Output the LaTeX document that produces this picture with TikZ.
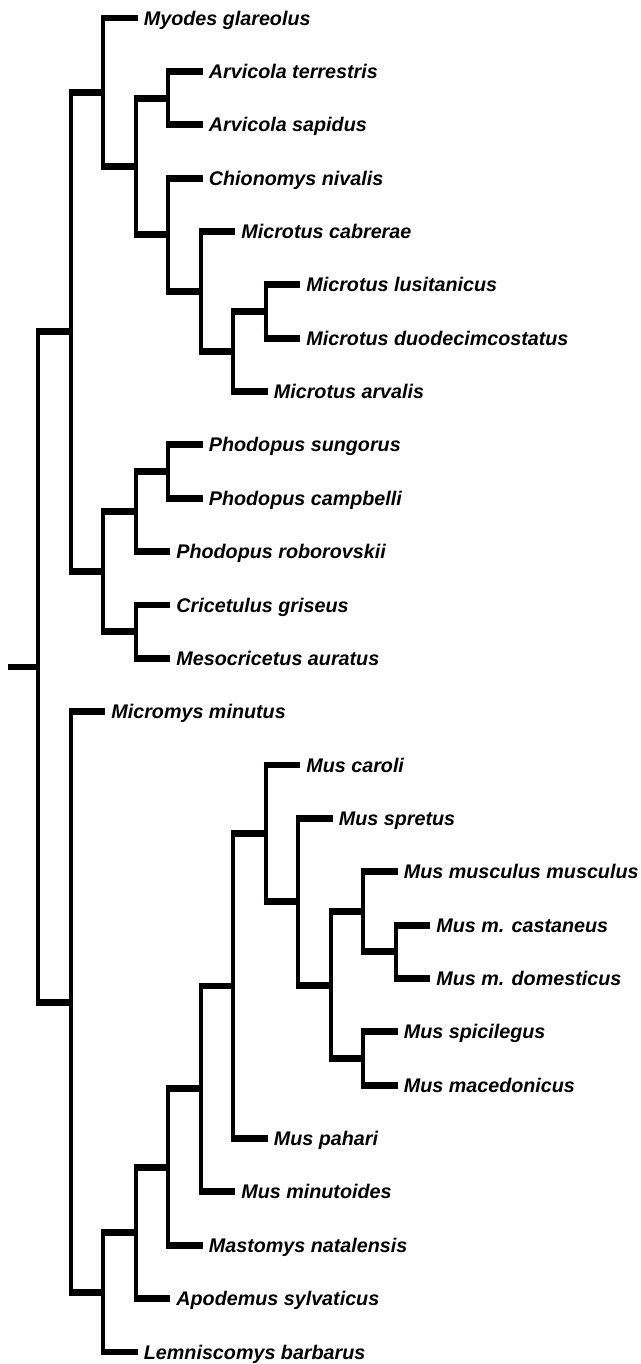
\documentclass[tikz,border=0pt]{standalone}
\usepackage{fontspec}
\setmainfont{Liberation Sans}

\begin{document}
\begin{tikzpicture}[
  x=0.75pt, y=-0.75pt,
  leaf/.style={
    anchor=west,
    font=\fontsize{14.8}{17}\selectfont\bfseries\itshape,
    text height=10.6pt,
    text depth=0pt,
    inner ysep=0pt,
    inner xsep=4.6pt
  },
  vbar/.style={line width=3pt, shorten >=-2.6pt},
  hbar/.style={line width=5.2pt, shorten <=-1.5pt}
]
\useasboundingbox (0,0) rectangle (640,1364);

\coordinate (base) at (8,667);
\coordinate (root) at (38,667);
\coordinate (a) at (70.5,331.9);
\coordinate (b) at (70.5,1002.05);
\coordinate (a1) at (103,92.2);
\coordinate (a2) at (103,571.6);
\coordinate (a1b) at (135.5,166.4);
\coordinate (arv) at (168,98.05);
\coordinate (a1c) at (168,234.8);
\coordinate (mic1) at (200.5,291.45);
\coordinate (mic2) at (233,351.5);
\coordinate (mic3) at (265.5,311.5);
\coordinate (ph1) at (135.5,511.6);
\coordinate (ph2) at (168,471.55);
\coordinate (cri) at (135.5,631.65);
\coordinate (b1) at (103,1292.4);
\coordinate (b2) at (135.5,1232.85);
\coordinate (b3) at (168,1167.1);
\coordinate (b4) at (200.5,1088.95);
\coordinate (b5) at (233,986);
\coordinate (mus1) at (265.5,833.4);
\coordinate (mus2) at (298,901.8);
\coordinate (mus3) at (330.5,985.15);
\coordinate (mus4) at (363,911.8);
\coordinate (mus5) at (395.5,951.8);
\coordinate (spic) at (363,1058.5);

\node[leaf] (myodes) at (137.5,18) {Myodes glareolus};
\node[leaf] (arvter) at (202.5,71.4) {Arvicola terrestris};
\node[leaf] (arvsap) at (202.5,124.7) {Arvicola sapidus};
\node[leaf] (chion) at (202.5,178.1) {Chionomys nivalis};
\node[leaf] (miccab) at (235,231.4) {Microtus cabrerae};
\node[leaf] (miclus) at (300,284.8) {Microtus lusitanicus};
\node[leaf] (micduo) at (300,338.2) {Microtus duodecimcostatus};
\node[leaf] (micarv) at (267.5,391.5) {Microtus arvalis};
\node[leaf] (phosun) at (202.5,444.9) {Phodopus sungorus};
\node[leaf] (phocam) at (202.5,498.2) {Phodopus campbelli};
\node[leaf] (phorob) at (170,551.6) {Phodopus roborovskii};
\node[leaf] (crigri) at (170,605) {Cricetulus griseus};
\node[leaf] (mesaur) at (170,658.3) {Mesocricetus auratus};
\node[leaf] (micmin) at (105,711.7) {Micromys minutus};
\node[leaf] (muscar) at (300,765) {Mus caroli};
\node[leaf] (musspr) at (332.5,818.4) {Mus spretus};
\node[leaf] (musmus) at (397.5,871.8) {Mus musculus musculus};
\node[leaf] (muscas) at (430,925.1) {Mus m. castaneus};
\node[leaf] (musdom) at (430,978.5) {Mus m. domesticus};
\node[leaf] (musspi) at (397.5,1031.8) {Mus spicilegus};
\node[leaf] (musmac) at (397.5,1085.2) {Mus macedonicus};
\node[leaf] (muspah) at (267.5,1138.6) {Mus pahari};
\node[leaf] (musmin) at (235,1191.9) {Mus minutoides};
\node[leaf] (masnat) at (202.5,1245.3) {Mastomys natalensis};
\node[leaf] (aposyl) at (170,1298.6) {Apodemus sylvaticus};
\node[leaf] (lembar) at (137.5,1352) {Lemniscomys barbarus};

\draw[line width=5.2pt] (base) -- (root);
\foreach \p/\c in {root/a, root/b, a/a1, a/a2, a1/myodes, a1/a1b,
    a1b/arv, a1b/a1c, arv/arvter, arv/arvsap, a1c/chion, a1c/mic1,
    mic1/miccab, mic1/mic2, mic2/mic3, mic2/micarv, mic3/miclus, mic3/micduo,
    a2/ph1, a2/cri, ph1/ph2, ph1/phorob, ph2/phosun, ph2/phocam,
    cri/crigri, cri/mesaur, b/micmin, b/b1, b1/b2, b1/lembar,
    b2/b3, b2/aposyl, b3/b4, b3/masnat, b4/b5, b4/musmin,
    b5/mus1, b5/muspah, mus1/muscar, mus1/mus2, mus2/musspr, mus2/mus3,
    mus3/mus4, mus3/spic, mus4/musmus, mus4/mus5, mus5/muscas, mus5/musdom,
    spic/musspi, spic/musmac}{
  \draw[vbar] (\p) -- (\p |- \c);
  \draw[hbar] (\p |- \c) -- (\c);
}
\end{tikzpicture}
\end{document}
